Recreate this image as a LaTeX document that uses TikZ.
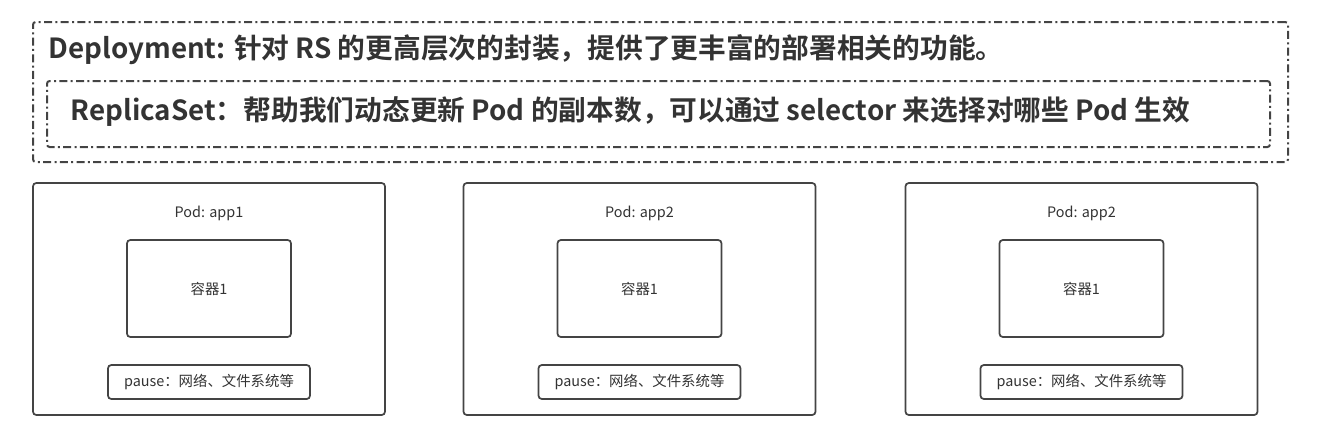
\documentclass[tikz,border=0pt]{standalone}
\usepackage{fontspec}
\setmainfont{Noto Sans CJK SC}[BoldFont={Noto Sans CJK SC Bold}]

\definecolor{linegray}{HTML}{444444}
\definecolor{textgray}{HTML}{333333}

\tikzset{
	dashbox/.style = {draw = linegray, line width = 1.5pt, rounded corners = 2pt,
		dash pattern = on 6pt off 2.5pt on 1.5pt off 2.5pt},
	podbox/.style = {draw = linegray, line width = 1.3pt, rounded corners = 2.5pt},
	small/.style = {font = \fontsize{10.8pt}{13pt}\selectfont, text = textgray},
	title/.style = {font = \fontsize{20.8pt}{24pt}\selectfont\bfseries, text = textgray, anchor = west}
}

\begin{document}
\begin{tikzpicture}[x = 0.75pt, y = -0.75pt]

	\useasboundingbox (0, 0) rectangle (1332, 444);

	% Deployment and ReplicaSet frames
	
	\node [dashbox, minimum width = 941.25pt, minimum height = 105pt] (deploy) at (660.5, 92) {};
	\node [dashbox, minimum width = 917.25pt, minimum height = 49.5pt] (rs) at (658.5, 114) {};
	
	\node [title] (deploytext) at (44, 50) {Deployment: 针对 RS 的更高层次的封装，提供了更丰富的部署相关的功能。};
	\node [title] (rstext) at (66, 112) {ReplicaSet：帮助我们动态更新 Pod 的副本数，可以通过 selector 来选择对哪些 Pod 生效};
	
	% Pods
	
	\foreach \n / \x / \app in {1/209/app1, 2/639.5/app2, 3/1081.5/app2} {
		\node [podbox, minimum width = 264pt, minimum height = 174pt] (pod\n) at (\x, 299) {};
		\node [small] (podlabel\n) at (\x, 213) {Pod: \app};
		\node [podbox, minimum width = 123pt, minimum height = 72.75pt] (box\n) at (\x, 288.5) {};
		\node [small] (boxtext\n) at (box\n) {容器1};
		\node [podbox, minimum width = 151.5pt, minimum height = 25.5pt, small] (pause\n) at (\x, 382) {pause：网络、文件系统等};
	}
	
\end{tikzpicture}
\end{document}
